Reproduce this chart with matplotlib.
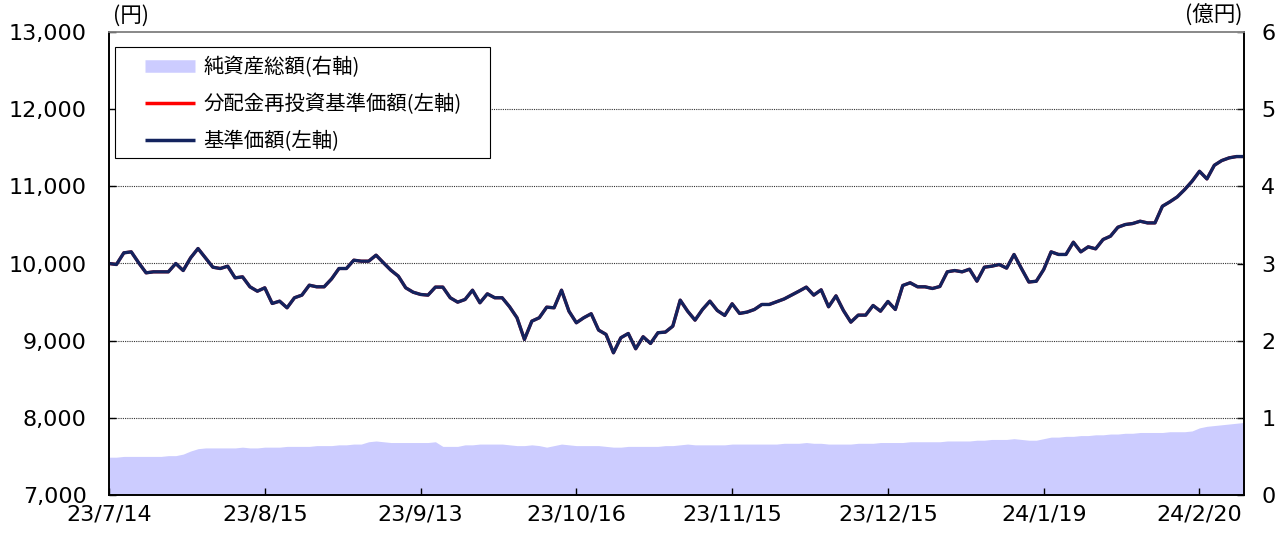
import matplotlib
matplotlib.use("Agg")
import matplotlib.pyplot as plt
from matplotlib.lines import Line2D
from matplotlib.legend_handler import HandlerBase
from matplotlib.patches import Rectangle
import pandas as pd
import numpy as np

plt.rcParams['font.family'] = ['Noto Sans CJK JP', 'DejaVu Sans']

# Business days (Japanese calendar) of the chart
holidays = ['2023-07-17', '2023-09-18', '2023-10-09', '2023-11-03', '2023-11-23',
            '2024-01-01', '2024-01-02', '2024-01-03', '2024-01-08', '2024-02-12', '2024-02-23']
dates = pd.bdate_range('2023-07-14', '2024-02-29', freq='C', holidays=holidays)

tick_labels = ['23/7/14', '23/8/15', '23/9/13', '23/10/16', '23/11/15', '23/12/15', '24/1/19', '24/2/20']
tick_dates = ['2023-07-14', '2023-08-15', '2023-09-13', '2023-10-16', '2023-11-15',
              '2023-12-15', '2024-01-19', '2024-02-20']

# 基準価額 (円)
nav = [10000, 9987, 10138, 10151, 10009, 9879, 9892, 9892, 9892, 10000,
       9909, 10073, 10194, 10073, 9952, 9935, 9965, 9814, 9827, 9698,
       9641, 9685, 9482, 9512, 9426, 9556, 9590, 9719, 9698, 9698,
       9800, 9935, 9935, 10043, 10030, 10030, 10108, 10009, 9913, 9836,
       9685, 9628, 9599, 9590, 9694, 9694, 9556, 9499, 9534, 9654,
       9491, 9607, 9556, 9556, 9439, 9297, 9016, 9253, 9297, 9434,
       9426, 9654, 9382, 9232, 9297, 9349, 9137, 9081, 8843, 9038,
       9093, 8895, 9051, 8964, 9103, 9111, 9188, 9525, 9382, 9266,
       9404, 9512, 9391, 9327, 9478, 9353, 9370, 9404, 9469, 9469,
       9504, 9540, 9590, 9641, 9694, 9590, 9659, 9439, 9581, 9391,
       9240, 9331, 9331, 9456, 9382, 9508, 9404, 9715, 9750, 9698,
       9698, 9676, 9702, 9892, 9909, 9892, 9926, 9771, 9952, 9965,
       9987, 9940, 10117, 9935, 9760, 9770, 9922, 10151, 10117, 10117,
       10276, 10151, 10216, 10190, 10311, 10354, 10470, 10505, 10518, 10548,
       10526, 10526, 10742, 10799, 10863, 10958, 11066, 11195, 11096, 11273,
       11334, 11369, 11386, 11386]

# 分配金再投資基準価額 (円) - overlaps the NAV line (no distributions)
nav_reinvested = list(nav)

# 純資産総額 (億円)
total_assets = [0.49, 0.49, 0.50, 0.50, 0.50, 0.50, 0.50, 0.50, 0.51, 0.51, 0.53,
                0.57, 0.60, 0.61, 0.61, 0.61, 0.61, 0.61, 0.62, 0.61, 0.61,
                0.62, 0.62, 0.62, 0.63, 0.63, 0.63, 0.63, 0.64, 0.64, 0.64, 0.65, 0.65, 0.66, 0.66,
                0.69, 0.70, 0.69, 0.68, 0.68, 0.68, 0.68, 0.68, 0.68, 0.69,
                0.63, 0.63, 0.63,
                0.65, 0.65, 0.66, 0.66, 0.66, 0.66,
                0.65, 0.64, 0.64, 0.65, 0.64, 0.62, 0.64, 0.66, 0.65,
                0.64, 0.64, 0.64, 0.64, 0.63,
                0.62, 0.62, 0.63, 0.63,
                0.63, 0.63, 0.63, 0.64, 0.64, 0.65, 0.66,
                0.65, 0.65, 0.65, 0.65, 0.65, 0.66, 0.66, 0.66, 0.66, 0.66, 0.66, 0.66, 0.67, 0.67, 0.67,
                0.68, 0.67, 0.67, 0.66, 0.66, 0.66, 0.66,
                0.67, 0.67, 0.67, 0.68, 0.68, 0.68,
                0.68, 0.69, 0.69, 0.69, 0.69, 0.69, 0.70, 0.70, 0.70, 0.70, 0.71, 0.71,
                0.72, 0.72, 0.72,
                0.73, 0.72, 0.71, 0.71, 0.73, 0.75,
                0.75, 0.76, 0.76, 0.77, 0.77, 0.78, 0.78, 0.79, 0.79, 0.80,
                0.80, 0.81, 0.81, 0.81, 0.81, 0.82, 0.82, 0.82, 0.83,
                0.87, 0.89, 0.90, 0.91, 0.92, 0.93, 0.94]

x = np.arange(len(dates))
tick_pos = [list(dates).index(pd.Timestamp(d)) for d in tick_dates]

NAVY = '#13235E'
RED = '#FF0000'
AREA = '#CCCCFF'
W, H = 1282, 533

fig = plt.figure(figsize=(W / 100, H / 100), dpi=100)
ax = fig.add_axes([109/W, 38/H, 1135/W, 463/H])
ax2 = ax.twinx()
ax.set_zorder(ax2.get_zorder() + 1)
ax.patch.set_visible(False)

ax2.fill_between(x, 0, total_assets, color=AREA, linewidth=0)
ax2.set_ylim(0, 6)
ax2.set_yticks(range(0, 7))

ax.plot(x, nav_reinvested, color=RED, linewidth=2.2)
ax.plot(x, nav, color=NAVY, linewidth=2.4)
ax.set_xlim(0, len(dates) - 1)
ax.set_ylim(7000, 13000)
ax.set_yticks(range(7000, 13001, 1000))
ax.set_yticklabels([f'{v:,}' for v in range(7000, 13001, 1000)])
ax.set_xticks(tick_pos)
ax.set_xticklabels(tick_labels)

for v in range(8000, 13000, 1000):
    ax.axhline(v, color='#333333', linewidth=0.8, linestyle=(0, (1, 1)), zorder=0.5)

for a in (ax, ax2):
    a.tick_params(direction='in', length=5, width=1, colors='black')
    for lab in a.get_xticklabels() + a.get_yticklabels():
        lab.set_fontfamily('DejaVu Sans')
        lab.set_fontsize(16)
    for s in a.spines.values():
        s.set_linewidth(1.2)
        s.set_color('black')
    a.spines['top'].set_color('#888888')
ax.tick_params(axis='y', pad=16)
ax.tick_params(axis='x', pad=7)
ax2.tick_params(axis='y', pad=12.5)

fig.text(131/W, 1 - 16/H, '(円)', fontsize=15.5, ha='center', va='center')
fig.text(1214/W, 1 - 16/H, '(億円)', fontsize=15.5, ha='center', va='center')


class PlainLine(HandlerBase):
    def create_artists(self, legend, orig_handle, xdescent, ydescent, width, height, fontsize, trans):
        y = height / 2 - ydescent
        ln = Line2D([-xdescent, -xdescent + width], [y, y], color=orig_handle.get_color(),
                    linewidth=orig_handle.get_linewidth(), solid_capstyle='butt', transform=trans)
        return [ln]


handles = [Line2D([], [], color=AREA, linewidth=9),
           Line2D([], [], color=RED, linewidth=2.5),
           Line2D([], [], color=NAVY, linewidth=2.5)]
labels = ['純資産総額(右軸)', '分配金再投資基準価額(左軸)', '基準価額(左軸)']
leg = ax.legend(handles, labels, loc='upper left',
                bbox_to_anchor=(145/W, 1 - 57/H), bbox_transform=fig.transFigure,
                borderaxespad=0, borderpad=0, fontsize=14.7, frameon=False,
                handlelength=2.45, handletextpad=0.4, labelspacing=0.77,
                handler_map={Line2D: PlainLine()})
ax.add_patch(Rectangle((115/W, 1 - 158/H), 375/W, 111/H, transform=fig.transFigure,
                       fill=True, facecolor='white', edgecolor='black', linewidth=0.8,
                       zorder=4, clip_on=False))
leg.set_zorder(5)

fig.savefig('out.png', dpi=100)
